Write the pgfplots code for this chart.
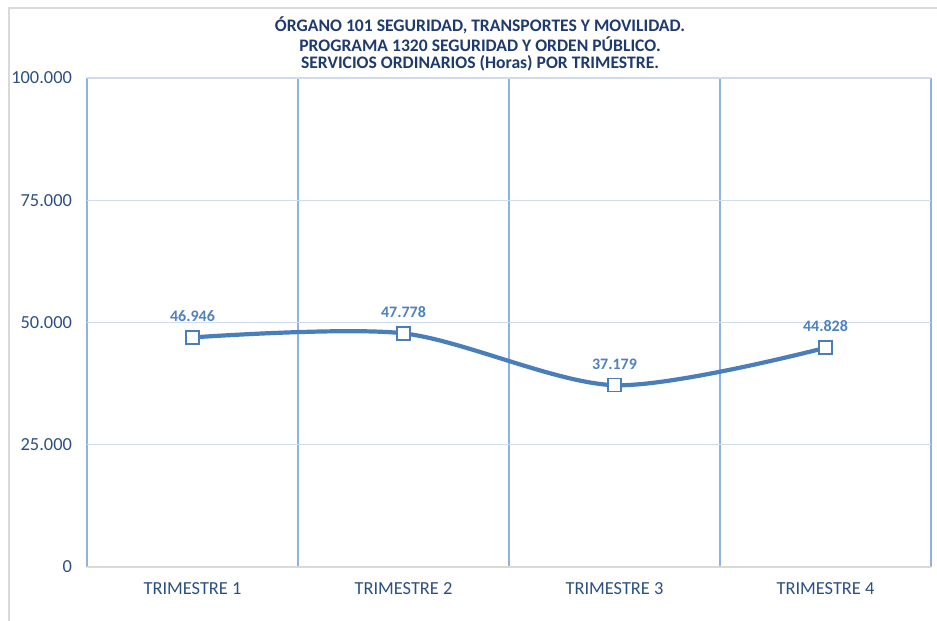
\documentclass[border=0pt]{standalone}
\usepackage{pgfplots}
\pgfplotsset{compat=1.18}
\usepackage{fontspec}
\setmainfont{Carlito}
\definecolor{linec}{HTML}{4A7EBB}
\definecolor{labc}{HTML}{4F81BD}
\definecolor{tickc}{HTML}{2B4F81}
\definecolor{titc}{HTML}{1F3A6E}
\definecolor{vgrid}{HTML}{8DB3E2}
\definecolor{hgrid}{HTML}{D0DCEE}
\definecolor{bordc}{HTML}{D9D9D9}
\begin{document}
\begin{tikzpicture}
\useasboundingbox (-43.5pt,-27pt) rectangle (425pt,283.5pt);
\draw[bordc, line width=0.75pt] (-39pt,-30pt) -- (-39pt,279.5pt) -- (430pt,279.5pt);
\begin{axis}[
 scale only axis, width=422pt, height=244.5pt,
 xmin=0.5, xmax=4.5, ymin=0, ymax=100000,
 xtick={1,2,3,4},
 xticklabels={TRIMESTRE 1,TRIMESTRE 2,TRIMESTRE 3,TRIMESTRE 4},
 minor xtick={0.5,1.5,2.5,3.5,4.5},
 ytick={0,25000,50000,75000,100000},
 yticklabels={0,25.000,50.000,75.000,100.000},
 scaled y ticks=false,
 ymajorgrids, xminorgrids,
 major grid style={hgrid, line width=0.6pt},
 minor grid style={vgrid, line width=0.6pt},
 axis line style={draw=none},
 major tick length=0pt, minor tick length=0pt,
 tick label style={font=\fontsize{9.2}{11}\selectfont, text=tickc},
 yticklabel style={xshift=-4pt},
 xticklabel style={yshift=-4pt},
]
\addplot[linec, line width=2.1pt, smooth, mark=square*, mark size=3.25pt,
  mark options={fill=white, draw=linec, line width=0.8pt},
  point meta=explicit symbolic,
  nodes near coords,
  nodes near coords style={font=\fontsize{8}{10}\selectfont\bfseries, text=labc, anchor=base, yshift=8pt}]
  coordinates {(1,46946) [46.946] (2,47778) [47.778] (3,37179) [37.179] (4,44828) [44.828]};
\end{axis}
\draw[bordc, line width=1pt] (0,0) -- (422pt,0);
\node[font=\fontsize{8.8}{8.5}\selectfont\bfseries, text=titc, align=center] at (196.5pt,261.5pt)
 {ÓRGANO 101 SEGURIDAD, TRANSPORTES Y MOVILIDAD.\\ PROGRAMA 1320 SEGURIDAD Y ORDEN PÚBLICO.\\ SERVICIOS ORDINARIOS (Horas) POR TRIMESTRE.};
\end{tikzpicture}
\end{document}
